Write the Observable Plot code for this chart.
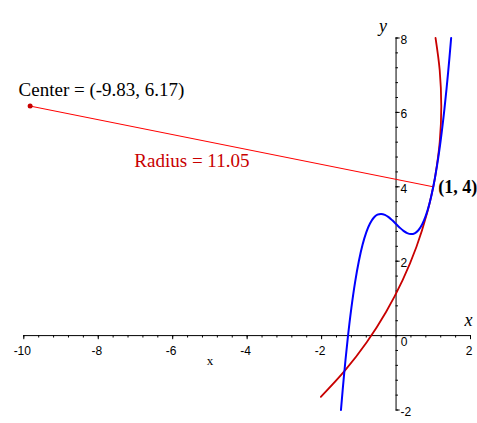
<!DOCTYPE html>
<html><head><meta charset="utf-8">
<script src="https://cdn.jsdelivr.net/npm/d3@7"></script>
<script src="https://cdn.jsdelivr.net/npm/@observablehq/plot@0.6"></script>
<style>body{margin:0;background:#fff}</style>
</head><body><div id="chart"></div>
<script>
const curveX = [-1.48,-1.4,-1.3,-1.2,-1.1,-1.0,-0.9,-0.8,-0.7,-0.6,-0.5,-0.4,-0.3,-0.2,-0.1,0,0.1,0.2,0.3,0.4,0.5,0.6,0.7,0.8,0.9,1.0,1.1,1.2,1.3,1.4,1.48];
const curveY = [-2.0,-1.088,-0.094,0.744,1.438,2.0,2.442,2.776,3.014,3.168,3.25,3.272,3.246,3.184,3.098,3.0,2.902,2.816,2.754,2.728,2.75,2.832,2.986,3.224,3.558,4.0,4.562,5.256,6.094,7.088,8.0];
// Red osculating circle arc, sampled points
const arcX = [-2.021,-1.370,-0.783,-0.265,0.180,0.549,0.838,1.0,1.047,1.173,1.215,1.173,1.061];
const arcY = [-1.645,-0.934,-0.170,0.643,1.498,2.388,3.308,4.0,4.249,5.204,6.167,7.130,8.0];
// Key points
const centerPt = {x: -9.83, y: 6.17};
const touchPt = {x: 1, y: 4};
// Ticks
const xMajor = [-10,-8,-6,-4,-2,2];
const xMajorLabels = ["-10","-8","-6","-4","-2","2"];
const yMajor = [-2,2,4,6,8];
const yMajorLabels = ["-2","2","4","6","8"];
const xMinor = d3.range(0, 31).map(i => -10 + i * 0.4);
const yMinor = d3.range(0, 26).map(i => -2 + i * 0.4);
// Annotation texts
const centerLabel = "Center = (-9.83, 6.17)";
const radiusLabel = "Radius = 11.05";
const pointLabel = "(1, 4)";
const labelPos = {center: {x: -10.14, y: 6.43}, radius: {x: -7.03, y: 4.52}};

const curve = curveX.map((x, i) => ({x, y: curveY[i]}));
const arc = arcX.map((x, i) => ({x, y: arcY[i]}));
const dark = "#c80000";
const serif = "'Liberation Serif', 'Times New Roman', serif";
const sans = "'Liberation Sans', Arial, sans-serif";

const chart = Plot.plot({
  width: 477, height: 423,
  marginLeft: 23.3, marginRight: 7, marginTop: 37.5, marginBottom: 13.5,
  style: {background: "#fff", fontFamily: sans, fontSize: "12px", color: "#000"},
  x: {domain: [-10, 2], axis: null},
  y: {domain: [-2, 8], axis: null},
  marks: [
    // axes
    Plot.ruleY([0], {x1: -10, x2: 2, stroke: "#000", strokeWidth: 1}),
    Plot.ruleX([0], {y1: -2, y2: 8, stroke: "#000", strokeWidth: 1}),
    Plot.ruleX(xMinor, {x: d => d, y1: 0, y2: -0.065, stroke: "#000"}),
    Plot.ruleX(xMajor, {x: d => d, y1: 0, y2: -0.11, stroke: "#000"}),
    Plot.ruleY(yMinor, {y: d => d, x1: 0, x2: 0.065, stroke: "#000"}),
    Plot.ruleY(yMajor, {y: d => d, x1: 0, x2: 0.11, stroke: "#000"}),
    Plot.text(xMajor, {x: d => d, y: 0, text: (d, i) => xMajorLabels[i], dy: 16, dx: -1.5, fontFamily: sans, fontSize: 12, fill: "#000"}),
    Plot.text(["0"], {x: 0, y: 0, text: d => d, dx: 8, dy: 7, fontFamily: sans, fontSize: 12, fill: "#000"}),
    Plot.text(yMajor, {x: 0, y: d => d, text: (d, i) => yMajorLabels[i], textAnchor: "start", dx: 4.5, dy: 2, fontFamily: sans, fontSize: 12, fill: "#000"}),
    // axis titles
    Plot.text(["x"], {x: 2, y: 0, text: d => d, dx: -2, dy: -10, lineAnchor: "bottom", fontFamily: serif, fontStyle: "italic", fontSize: 18, fill: "#000"}),
    Plot.text(["y"], {x: 0, y: 8, text: d => d, dx: -13, dy: -6, lineAnchor: "bottom", fontFamily: serif, fontStyle: "italic", fontSize: 18, fill: "#000"}),
    Plot.text(["x"], {x: -5, y: 0, text: d => d, dy: 29, lineAnchor: "bottom", fontFamily: serif, fontSize: 13, fill: "#000"}),
    // radius line
    Plot.link([0], {x1: centerPt.x, y1: centerPt.y, x2: touchPt.x, y2: touchPt.y, stroke: "#ff0000", strokeWidth: 1}),
    // curves
    Plot.line(arc, {x: "x", y: "y", stroke: dark, strokeWidth: 1.8, curve: "catmull-rom"}),
    Plot.line(curve, {x: "x", y: "y", stroke: "#0000ff", strokeWidth: 2, curve: "catmull-rom"}),
    Plot.dot([centerPt], {x: "x", y: "y", r: 2.5, fill: dark, stroke: null}),
    // annotations
    Plot.text([centerLabel], {x: labelPos.center.x, y: labelPos.center.y, text: d => d, textAnchor: "start", lineAnchor: "bottom", fontFamily: serif, fontSize: 19, fill: "#000"}),
    Plot.text([radiusLabel], {x: labelPos.radius.x, y: labelPos.radius.y, text: d => d, textAnchor: "start", lineAnchor: "bottom", fontFamily: serif, fontSize: 19, fill: dark}),
    Plot.text([pointLabel], {x: touchPt.x, y: touchPt.y, text: d => d, textAnchor: "start", lineAnchor: "middle", dx: 5, dy: 0, fontFamily: serif, fontWeight: "bold", fontSize: 18, fill: "#000"})
  ]
});
document.getElementById("chart").appendChild(chart);
</script>
</body></html>
